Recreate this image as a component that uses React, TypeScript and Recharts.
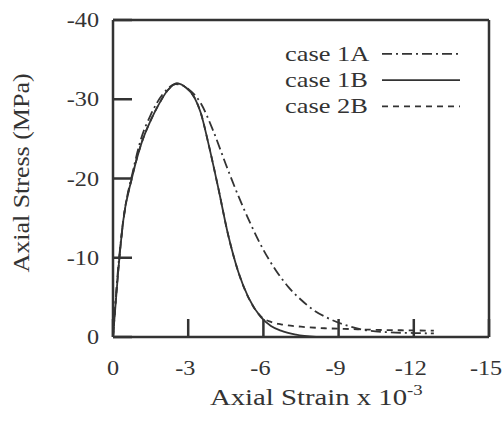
import { LineChart, Line, XAxis, YAxis, ReferenceLine, Legend } from "recharts";

// Stress-strain curves for three cases. Compression is negative, so both
// axes run from 0 toward negative values (0 at the bottom-left corner).

const strain1A = [0, -0.2, -0.45, -0.8, -1.1, -1.5, -2.0, -2.5, -3.0, -3.5, -4.0, -4.5, -5.0, -5.5, -6.0, -6.5, -7.0, -7.5, -8.0, -8.5, -9.0, -9.5, -10.0, -11.0, -12.0, -12.8];
const stress1A = [0, -8.5, -15.5, -21, -24.8, -28, -30.7, -31.9, -31.3, -29.5, -26.0, -21.8, -17.8, -14.2, -11.0, -8.4, -6.3, -4.7, -3.4, -2.5, -1.8, -1.3, -0.9, -0.6, -0.5, -0.45];

const strain1B = [0, -0.2, -0.4, -0.75, -1.13, -1.5, -1.8, -2.2, -2.55, -2.9, -3.25, -3.5, -3.8, -4.2, -4.6, -5.0, -5.4, -5.9, -6.3, -6.7, -7.3, -8.1];
const stress1B = [0, -8, -14.5, -20, -24.4, -27.3, -29.2, -31.2, -32, -31.5, -30.2, -28.3, -24.5, -18.8, -12.8, -8.2, -5.0, -2.5, -1.4, -0.8, -0.3, 0];

const strain2B = [0, -0.2, -0.4, -0.75, -1.13, -1.5, -1.8, -2.2, -2.55, -2.9, -3.25, -3.5, -3.8, -4.2, -4.6, -5.0, -5.4, -5.9, -6.3, -6.7, -7.5, -8.5, -9.5, -10.5, -11.5, -12.8];
const stress2B = [0, -8, -14.5, -20, -24.4, -27.3, -29.2, -31.2, -32, -31.5, -30.2, -28.3, -24.5, -18.8, -12.8, -8.2, -5.0, -2.6, -1.9, -1.6, -1.3, -1.1, -1.0, -0.9, -0.85, -0.8];

const xTicks = [0, -3, -6, -9, -12, -15];
const yTicks = [0, -10, -20, -30, -40];

const toRows = (xs: number[], ys: number[]) => xs.map((strain, i) => ({ strain, stress: ys[i] }));

const SERIES = [
  { name: "case 1A", data: toRows(strain1A, stress1A), dash: "10 4 2 4" },
  { name: "case 1B", data: toRows(strain1B, stress1B), dash: undefined },
  { name: "case 2B", data: toRows(strain2B, stress2B), dash: "6 5" },
];

const INK = "#333";
const FONT = "'Liberation Serif', 'Times New Roman', serif";

function XTick({ x, y, payload }: any) {
  // labels sit a little left of the tick because of the minus sign
  const shift = payload.value === 0 ? 0 : -3;
  return (
    <g>
      <line x1={x} y1={y} x2={x} y2={y - 18} stroke={INK} strokeWidth={2.5} />
      <text
        transform={`translate(${x + shift},${y + 38}) scale(1.1,1)`}
        textAnchor="middle"
        fontFamily={FONT}
        fontSize={22}
        fill={INK}
      >
        {payload.value}
      </text>
    </g>
  );
}

function YTick({ x, y, payload }: any) {
  return (
    <g>
      <line x1={x} y1={y} x2={x + 19} y2={y} stroke={INK} strokeWidth={2.5} />
      <text
        transform={`translate(${x - 14},${y + 7}) scale(1.1,1)`}
        textAnchor="end"
        fontFamily={FONT}
        fontSize={22}
        fill={INK}
      >
        {payload.value}
      </text>
    </g>
  );
}

function LegendBox() {
  return (
    <svg width={190} height={85}>
      {SERIES.map((s, i) => {
        const base = 20.5 + i * 26.3;
        return (
          <g key={s.name}>
            <text
              transform={`translate(3,${base}) scale(1.2,1)`}
              fontFamily={FONT}
              fontSize={22}
              fill={INK}
            >
              {s.name}
            </text>
            <line
              x1={100}
              x2={178}
              y1={base - 6.7}
              y2={base - 6.7}
              stroke={INK}
              strokeWidth={1.8}
              strokeDasharray={s.dash}
            />
          </g>
        );
      })}
    </svg>
  );
}

export default function App() {
  return (
    <div style={{ position: "absolute", left: 0, top: 0, background: "#fff" }}>
      <LineChart width={503} height={434} margin={{ top: 20, right: 14, bottom: 96, left: 0 }}>
        <XAxis
          dataKey="strain"
          type="number"
          domain={[-15, 0]}
          reversed
          ticks={xTicks}
          interval={0}
          height={1}
          tickSize={0}
          tickMargin={0}
          tickLine={false}
          tick={<XTick />}
          axisLine={{ stroke: INK, strokeWidth: 2.5 }}
          allowDataOverflow
          label={{
            position: "bottom",
            content: () => (
              <text
                transform="translate(210,405) scale(1.25,1)"
                fontFamily={FONT}
                fontSize={23}
                fill={INK}
              >
                Axial Strain x 10
                <tspan fontSize={15} dy={-10}>-3</tspan>
              </text>
            ),
          }}
        />
        <YAxis
          dataKey="stress"
          type="number"
          domain={[-40, 0]}
          reversed
          ticks={yTicks}
          interval={0}
          width={113}
          tickSize={0}
          tickMargin={0}
          tickLine={false}
          tick={<YTick />}
          axisLine={{ stroke: INK, strokeWidth: 2.5 }}
          allowDataOverflow
          label={{
            position: "left",
            content: () => (
              <text
                transform="translate(29,173) rotate(-90) scale(1.13,1)"
                textAnchor="middle"
                fontFamily={FONT}
                fontSize={23}
                fill={INK}
              >
                Axial Stress (MPa)
              </text>
            ),
          }}
        />
        <ReferenceLine y={-40} stroke={INK} strokeWidth={2.5} />
        <ReferenceLine x={-15} stroke={INK} strokeWidth={2.5} />
        <Legend
          layout="vertical"
          align="center"
          verticalAlign="middle"
          wrapperStyle={{ top: 40, left: 282, width: 190, height: 85 }}
          content={() => <LegendBox />}
        />
        {SERIES.map((s) => (
          <Line
            key={s.name}
            name={s.name}
            data={s.data}
            dataKey="stress"
            type="monotone"
            stroke={INK}
            strokeWidth={1.8}
            strokeDasharray={s.dash}
            dot={false}
            isAnimationActive={false}
          />
        ))}
      </LineChart>
    </div>
  );
}
